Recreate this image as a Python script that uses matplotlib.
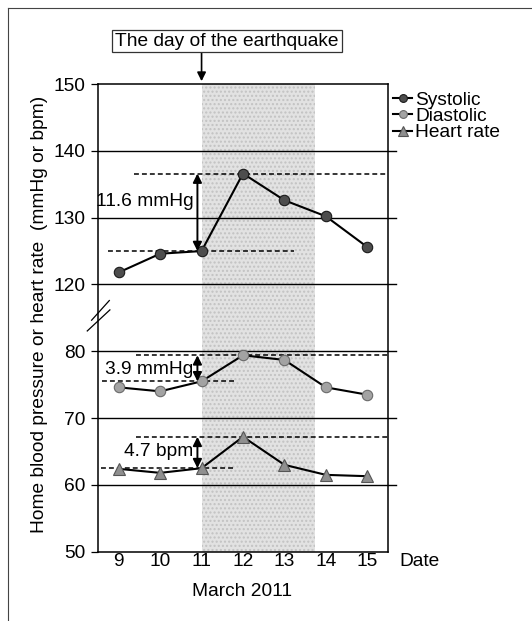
import numpy as np
import matplotlib
matplotlib.use("Agg")
import matplotlib.pyplot as plt
from matplotlib.lines import Line2D

# Home readings, 9-15 March 2011
dates = [9, 10, 11, 12, 13, 14, 15]
systolic = [121.8, 124.6, 125.0, 136.6, 132.6, 130.2, 125.6]
diastolic = [74.6, 74.0, 75.5, 79.4, 78.7, 74.6, 73.5]
heart_rate = [62.4, 61.8, 62.5, 67.2, 63.0, 61.5, 61.3]
y_ticks = [50, 60, 70, 80, 120, 130, 140, 150]
quake_day = 11
peak_day = 12

plt.rcParams['font.family'] = ['Liberation Sans', 'DejaVu Sans']
plt.rcParams['font.size'] = 13.8


# broken y axis: 50-80 and 120-150 get the same spacing, 80-120 is squeezed
def fwd(v):
    v = np.asarray(v, dtype=float)
    return np.where(v <= 80, v - 50, np.where(v >= 120, v - 80, 30 + (v - 80) / 4))


def inv(p):
    p = np.asarray(p, dtype=float)
    return np.where(p <= 30, p + 50, np.where(p >= 40, p + 80, 80 + (p - 30) * 4))


fig = plt.figure(figsize=(5.32, 6.21), dpi=100)
ax = fig.add_axes([0.1842, 0.1116, 0.5451, 0.7531])
ax.set_yscale('function', functions=(fwd, inv))
ax.set_ylim(50, 150)
ax.set_xlim(8.5, 15.5)
ax.set_yticks(y_ticks)
ax.set_yticklabels([str(t) for t in y_ticks])
ax.set_xticks(dates)
ax.set_xticklabels([str(d) for d in dates])
ax.minorticks_off()
ax.tick_params(axis='y', direction='out', length=5, width=0.9, pad=4)
ax.tick_params(axis='x', length=0, pad=1)
for s in ax.spines.values():
    s.set_linewidth(1.1)

# horizontal rules, slightly longer than the frame on the right
for v in y_ticks[1:-1]:
    ax.axhline(v, xmin=0, xmax=1.028, color='black', lw=1.0, clip_on=False, zorder=1)

# days after the earthquake
ax.axvspan(quake_day, 13.75, facecolor='#e2e2e2', edgecolor='#c2c2c2',
           hatch='....', lw=0, zorder=0)

# series
ax.plot(dates, systolic, '-o', color='black', lw=1.5, mfc='#4d4d4d', mec='#1a1a1a',
        ms=7.5, mew=0.8, label='Systolic', zorder=4)
ax.plot(dates, diastolic, '-o', color='black', lw=1.5, mfc='#a3a3a3', mec='#6a6a6a',
        ms=7.5, mew=0.8, label='Diastolic', zorder=4)
ax.plot(dates, heart_rate, '-^', color='black', lw=1.5, mfc='#8f8f8f', mec='#555555',
        ms=9, mew=0.8, label='Heart rate', zorder=4)

# change from the quake day to the next day
i0 = dates.index(quake_day)
i1 = dates.index(peak_day)
dash = (0, (3.2, 2.0))
refs = [
    (systolic, 'mmHg', (9.37, 15.5), (8.73, 13.22), 132.45),
    (diastolic, 'mmHg', (9.41, 15.5), (8.60, 11.78), 77.2),
    (heart_rate, 'bpm', (9.41, 15.5), (8.57, 11.77), 65.0),
]
for vals, unit, top_x, base_x, text_y in refs:
    base, peak = vals[i0], vals[i1]
    ax.plot(top_x, [peak, peak], ls=dash, color='black', lw=1.1, zorder=2)
    ax.plot(base_x, [base, base], ls=dash, color='black', lw=1.1, zorder=2)
    ax.annotate('', xy=(10.9, peak), xytext=(10.9, base),
                arrowprops=dict(arrowstyle='<|-|>', color='black', lw=1.4,
                                mutation_scale=13, shrinkA=0, shrinkB=0), zorder=5)
    ax.text(10.8, text_y, f'{peak - base:.1f} {unit}', ha='right', va='center', zorder=6)

# axis break marks
for xs, ys in [([-0.022, 0.039], [0.495, 0.537]), ([-0.037, 0.041], [0.472, 0.517])]:
    ax.plot(xs, ys, transform=ax.transAxes, color='black', lw=0.9, clip_on=False)

ax.set_ylabel('Home blood pressure or heart rate  (mmHg or bpm)')
ax.yaxis.set_label_coords(-0.172, 0.508)
ax.set_xlabel('March 2011')
ax.xaxis.set_label_coords(0.495, -0.067)
ax.text(1.038, -0.003, 'Date', transform=ax.transAxes, ha='left', va='top')

ax.legend(loc='upper left', bbox_to_anchor=(1.017, 0.984), frameon=False,
          handlelength=1.0, handletextpad=0.15, labelspacing=-0.064,
          borderpad=0, borderaxespad=0, markerscale=0.75)

# label for the earthquake day
fig.text(227 / 532, 1 - 41 / 621, 'The day of the earthquake', ha='center', va='center',
         bbox=dict(boxstyle='square,pad=0.15', fc='white', ec='#333333', lw=0.9))
ax.annotate('', xy=(quake_day, 1.006), xycoords=('data', 'axes fraction'),
            xytext=(quake_day, 1.068), textcoords=('data', 'axes fraction'),
            arrowprops=dict(arrowstyle='-|>', color='black', lw=1.2,
                            mutation_scale=13, shrinkA=0, shrinkB=0))

# outer frame
fig.add_artist(Line2D([8 / 532, 1], [1 - 8 / 621] * 2, transform=fig.transFigure,
                      color='#444444', lw=0.8))
fig.add_artist(Line2D([8 / 532] * 2, [0, 1 - 8 / 621], transform=fig.transFigure,
                      color='#444444', lw=0.8))

fig.savefig('out.png', dpi=100)
